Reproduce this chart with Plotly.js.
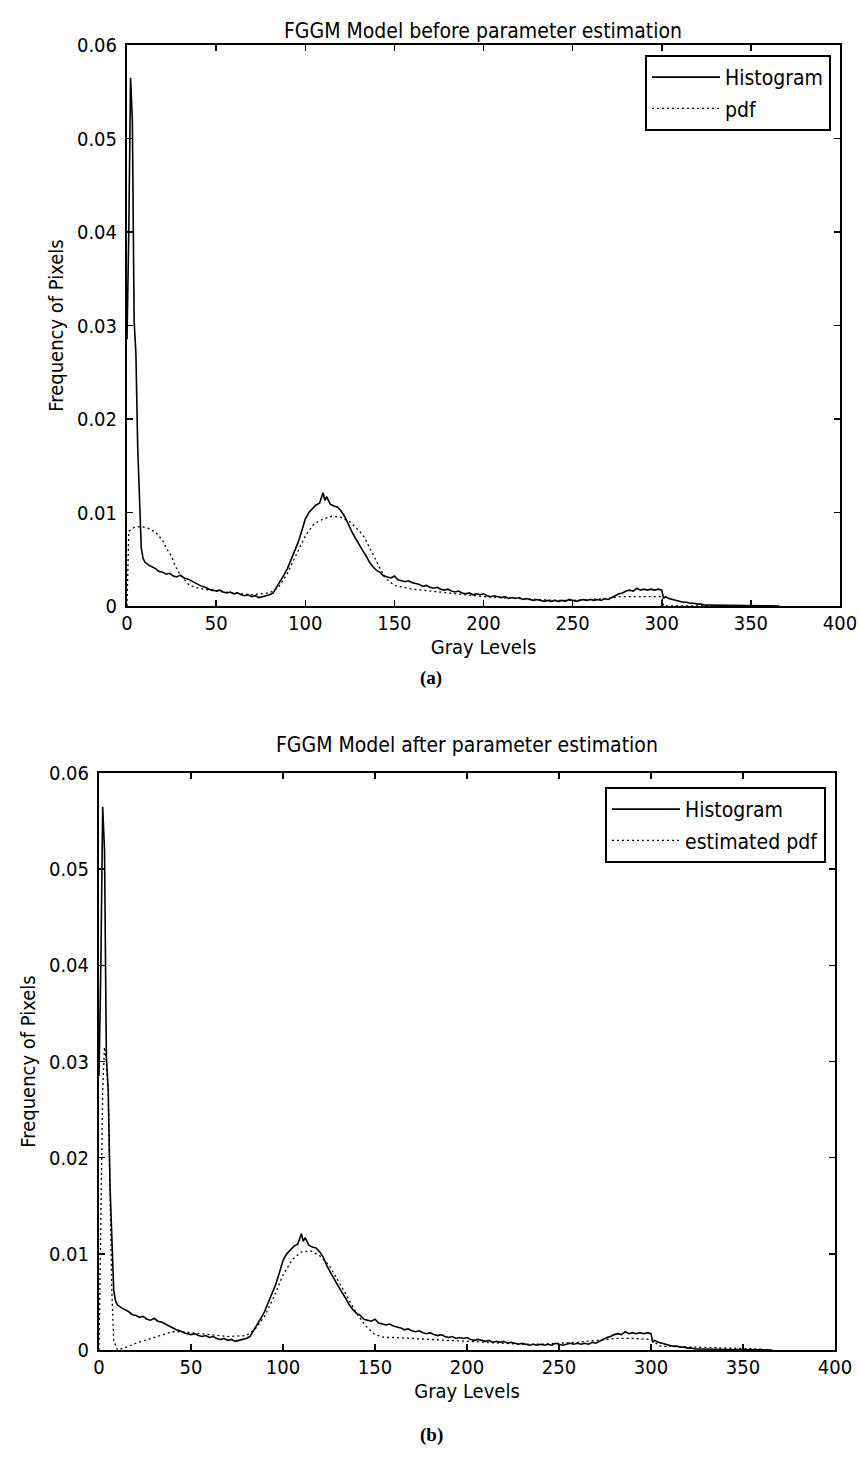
<!DOCTYPE html>
<html>
<head>
<meta charset="utf-8">
<script src="https://cdn.plot.ly/plotly-3.0.1.min.js"></script>
<style>
  html, body { margin: 0; padding: 0; background: #fff; }
  #chart { width: 859px; height: 1457px; }
</style>
</head>
<body>
<div id="chart"></div>
<script>
// ---- Data ----
const histGray = [0,1,2,3,4,5,6,7,8,9,10,12,14,16,18,20,22,24,26,28,30,32,34,36,38,40,42,44,46,48,50,52,54,56,58,60,62,64,66,68,70,72,74,76,78,80,82,84,86,88,90,92,94,96,98,100,102,104,106,108,110,111,112,114,116,118,120,122,124,126,128,130,132,134,136,138,140,142,144,146,148,150,152,154,156,158,160,162,164,166,168,170,172,174,176,178,180,182,184,186,188,190,192,194,196,198,200,202,204,206,208,210,212,214,216,218,220,222,224,226,228,230,232,234,236,238,240,242,244,246,248,250,252,254,256,258,260,262,264,266,268,270,272,274,276,278,280,282,284,286,288,290,292,294,296,298,300,301,302,304,306,308,310,312,314,316,318,320,322,324,326,330,340,350,360,366];
const histFreq = [0.0285,0.0400,0.0565,0.0520,0.0305,0.0270,0.0170,0.0110,0.0062,0.0051,0.0047,0.0044,0.0042,0.0040,0.0037,0.0036,0.0034,0.0035,0.0032,0.0031,0.0033,0.0030,0.0029,0.0027,0.0025,0.0023,0.0021,0.0020,0.0018,0.0017,0.0016,0.0017,0.0015,0.0014,0.0015,0.0013,0.0014,0.0012,0.0011,0.0012,0.0010,0.0011,0.0009,0.0010,0.0011,0.0012,0.0014,0.0020,0.0027,0.0033,0.0040,0.0049,0.0058,0.0068,0.0080,0.0093,0.0100,0.0104,0.0108,0.0110,0.0121,0.0113,0.0117,0.0109,0.0107,0.0106,0.0102,0.0096,0.0087,0.0080,0.0073,0.0066,0.0060,0.0054,0.0047,0.0042,0.0038,0.0036,0.0032,0.0031,0.0030,0.0032,0.0028,0.0027,0.0026,0.0027,0.0025,0.0024,0.0023,0.0021,0.0022,0.0020,0.0019,0.0020,0.0018,0.0017,0.0018,0.0016,0.0015,0.0016,0.0014,0.0013,0.0014,0.0012,0.0013,0.0012,0.0013,0.0011,0.0010,0.0011,0.0010,0.0009,0.0010,0.0008,0.0009,0.0008,0.0009,0.0007,0.0008,0.0007,0.0006,0.0007,0.0006,0.0005,0.0006,0.0005,0.0006,0.0005,0.0006,0.0005,0.0007,0.0006,0.0005,0.0006,0.0007,0.0006,0.0007,0.0006,0.0007,0.0006,0.0008,0.0007,0.0009,0.0011,0.0013,0.0014,0.0016,0.0017,0.0016,0.0019,0.0017,0.0018,0.0017,0.0018,0.0017,0.0018,0.0017,0.0008,0.0010,0.0008,0.0007,0.0006,0.0005,0.0004,0.0004,0.0003,0.0003,0.0002,0.0002,0.0001,0.0001,0.0001,0.00005,0.00003,0.00002,0];

const pdfGray = [0,0.5,1,4,8,12,16,20,22,25,27,30,35,40,50,60,70,80,85,90,95,100,105,110,115,120,125,130,133,138,142,146,150,155,160,170,180,190,200,210,220,230,240,250,260,270,276,280,290,300,301,360];
const pdfFreq = [0.0,0.0040,0.0080,0.0084,0.0085,0.0083,0.0079,0.0070,0.0062,0.0053,0.0043,0.0033,0.0022,0.0019,0.0016,0.0014,0.0012,0.0014,0.0020,0.0035,0.0055,0.0075,0.0088,0.0093,0.0096,0.0095,0.0090,0.0081,0.0074,0.0055,0.0040,0.0028,0.0022,0.0020,0.0018,0.0016,0.0014,0.0012,0.0010,0.0009,0.0008,0.0007,0.0006,0.0006,0.0007,0.0008,0.0010,0.0010,0.0010,0.0010,0.0000,0.0000];

const estGray = [0,1,2,3,4,5,6,7,8,10,15,20,25,30,35,40,45,50,60,70,80,85,90,95,100,105,110,115,120,125,130,135,140,145,150,155,160,170,180,190,200,210,220,230,240,250,260,270,280,290,300,305,320,340,360];
const estFreq = [0.0,0.0150,0.0270,0.0315,0.0300,0.0270,0.0170,0.0060,0.0010,0.0,0.0003,0.0007,0.0010,0.0013,0.0016,0.0019,0.0019,0.0018,0.0016,0.0014,0.0015,0.0022,0.0035,0.0055,0.0078,0.0094,0.0102,0.0103,0.0098,0.0088,0.0072,0.0055,0.0038,0.0025,0.0016,0.0013,0.0013,0.0012,0.0011,0.0010,0.0009,0.0008,0.0007,0.0006,0.0006,0.0007,0.0008,0.0010,0.0012,0.0012,0.0011,0.0004,0.0003,0.0002,0.0001];

const titles = ["FGGM Model before parameter estimation", "FGGM Model after parameter estimation"];
const xTitle = "Gray Levels";
const yTitle = "Frequency of Pixels";
const xTicks = [0,50,100,150,200,250,300,350,400];
const yTicks = [0,0.01,0.02,0.03,0.04,0.05,0.06];
const yTickText = ["0","0.01","0.02","0.03","0.04","0.05","0.06"];

// ---- Layout helpers ----
const W = 859, H = 1457;
const px = v => v / W;
const py = v => (H - v) / H;
const FONT = "DejaVu Sans Condensed, Liberation Sans Narrow, Liberation Sans, Arial, sans-serif";

const DOT = '2px,3px';
const traces = [
  {x: histGray, y: histFreq, type: 'scatter', mode: 'lines', name: 'Histogram',
   line: {color: '#000', width: 1.6}, xaxis: 'x', yaxis: 'y', legend: 'legend', legendgroup: 'a1'},
  {x: pdfGray, y: pdfFreq, type: 'scatter', mode: 'lines', name: 'pdf',
   line: {color: '#000', width: 1.3, dash: DOT}, xaxis: 'x', yaxis: 'y', legend: 'legend', legendgroup: 'a2'},
  {x: histGray, y: histFreq, type: 'scatter', mode: 'lines', name: 'Histogram',
   line: {color: '#000', width: 1.6}, xaxis: 'x2', yaxis: 'y2', legend: 'legend2', legendgroup: 'b1'},
  {x: estGray, y: estFreq, type: 'scatter', mode: 'lines', name: 'estimated pdf',
   line: {color: '#000', width: 1.3, dash: DOT}, xaxis: 'x2', yaxis: 'y2', legend: 'legend2', legendgroup: 'b2'}
];

function xa(domain, anchor) {
  return {
    domain: domain, anchor: anchor, range: [0, 400], tickvals: xTicks,
    ticks: 'inside', ticklen: 6, tickwidth: 1.5, tickcolor: '#000',
    showline: true, linecolor: '#000', linewidth: 2, mirror: 'ticks',
    showgrid: false, zeroline: false, ticklabelstandoff: -2,
    tickfont: {family: FONT, size: 20, color: '#000'},
    title: {text: xTitle, font: {family: FONT, size: 20, color: '#000'}, standoff: 0}
  };
}
function ya(domain, anchor) {
  return {
    domain: domain, anchor: anchor, range: [0, 0.06], tickvals: yTicks, ticktext: yTickText,
    ticks: 'inside', ticklen: 6, tickwidth: 1.5, tickcolor: '#000',
    showline: true, linecolor: '#000', linewidth: 2, mirror: 'ticks',
    showgrid: false, zeroline: false, ticklabelstandoff: 4,
    tickfont: {family: FONT, size: 20, color: '#000'},
    title: {text: yTitle, font: {family: FONT, size: 20, color: '#000'}, standoff: 8}
  };
}

const legendBase = {
  xanchor: 'right', yanchor: 'top', bordercolor: '#000', borderwidth: 2, bgcolor: '#fff',
  traceorder: 'grouped', tracegroupgap: 1, itemwidth: 68,
  font: {family: FONT, size: 21, color: '#000'}
};

const layout = {
  width: W, height: H, autosize: false,
  margin: {l: 0, r: 0, t: 0, b: 0},
  paper_bgcolor: '#fff', plot_bgcolor: '#fff',
  showlegend: true,
  xaxis: xa([px(127), px(840)], 'y'),
  yaxis: ya([py(606), py(45)], 'x'),
  xaxis2: xa([px(99), px(835)], 'y2'),
  yaxis2: ya([py(1350), py(773)], 'x2'),
  legend: Object.assign({}, legendBase, {x: px(831), y: py(55)}),
  legend2: Object.assign({}, legendBase, {x: px(826), y: py(787)}),
  annotations: [
    {text: titles[0], xref: 'paper', yref: 'paper', x: px(483), y: py(17), showarrow: false,
     font: {family: FONT, size: 21, color: '#000'}},
    {text: titles[1], xref: 'paper', yref: 'paper', x: px(467), y: py(745), showarrow: false,
     font: {family: FONT, size: 21, color: '#000'}},
    {text: '<b>(a)</b>', xref: 'paper', yref: 'paper', x: px(431), y: py(678), showarrow: false,
     font: {family: 'Liberation Serif, Times New Roman, serif', size: 19, color: '#000'}},
    {text: '<b>(b)</b>', xref: 'paper', yref: 'paper', x: px(431), y: py(1448), showarrow: false,
     font: {family: 'Liberation Serif, Times New Roman, serif', size: 19, color: '#000'}}
  ]
};

Plotly.newPlot('chart', traces, layout, {staticPlot: true, displayModeBar: false});
</script>
</body>
</html>
